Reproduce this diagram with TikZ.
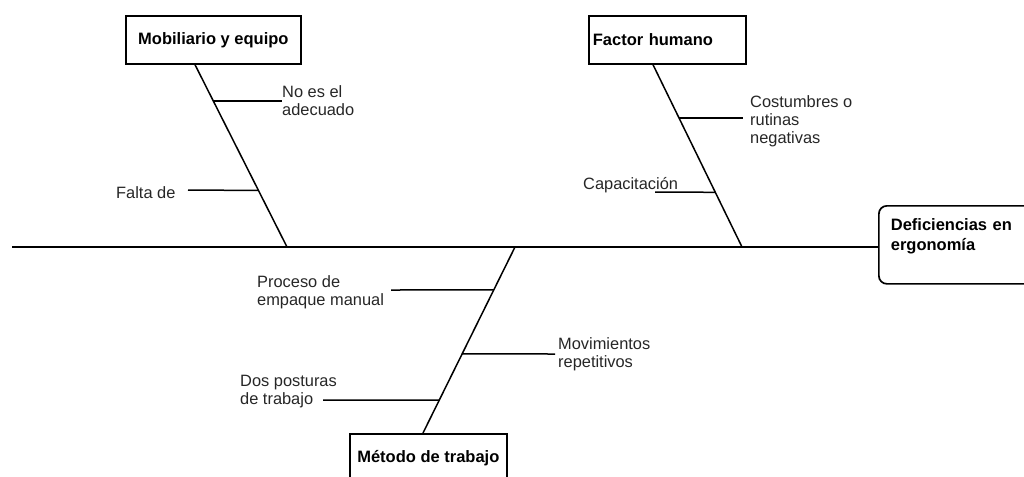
\documentclass[tikz,border=0pt]{standalone}
\usepackage{fontspec}
\setmainfont{Liberation Sans}
\usetikzlibrary{positioning,calc}

\begin{document}
\begin{tikzpicture}[x=1pt,y=-1pt,
    causa/.style={rectangle,draw,line width=1.7pt,minimum height=48pt,anchor=north west,font=\fontsize{16.5}{19}\selectfont\bfseries},
    efectobox/.style={rectangle,draw,rounded corners=8pt,line width=1.7pt,minimum width=160pt,minimum height=78pt,text width=136pt,inner xsep=12pt,align=left,anchor=north west,font=\fontsize{16.5}{20}\selectfont\bfseries},
    nota/.style={inner sep=0pt,align=left,anchor=north west,text=black!85,font=\fontsize{16.4}{18}\selectfont},
    rama/.style={line width=1.5pt}]
    \useasboundingbox (0,0) rectangle (1024,476);
    \clip (0,0) rectangle (1024,476);

    % categories and effect
    \node[causa,minimum width=175pt] (mobil) at (125,15) {Mobiliario y equipo};
    \node[causa,text width=149pt,inner xsep=4pt,align=left] (humano) at (588,15) {Factor humano};
    \node[causa,minimum width=157pt] (metodo) at (349,433) {Método de trabajo};
    \node[efectobox] (efecto) at (878,205) {Deficiencias en\\ergonomía\\\mbox{}};

    % spine
    \coordinate (cola) at (12,247);
    \draw[rama] (cola) -- (cola -| efecto.west);

    % bones
    \coordinate (b1t) at ([xshift=70pt]mobil.south west);
    \coordinate (j1) at (287,247);
    \coordinate (b2t) at ([xshift=65pt]humano.south west);
    \coordinate (j2) at (742,247);
    \coordinate (j3) at (515,247);
    \coordinate (b3b) at ([xshift=74pt]metodo.north west);
    \draw[rama] (b1t) -- (j1);
    \draw[rama] (b2t) -- (j2);
    \draw[rama] (j3) -- (b3b);

    % causes
    \node[nota] (noes) at (282,85) {No es el\\adecuado};
    \node[nota] (falta) at (116,186) {Falta de};
    \node[nota] (costum) at (750,95) {Costumbres o\\rutinas\\negativas};
    \node[nota] (capac) at (583,177) {Capacitación};
    \node[nota] (proceso) at (257,275) {Proceso de\\empaque manual};
    \node[nota] (movim) at (558,337) {Movimientos\\repetitivos};
    \node[nota] (dos) at (240,375) {Dos posturas\\de trabajo};

    \coordinate (m1) at ($(b1t)!0.20!(j1)$);
    \coordinate (m2) at ($(b1t)!0.69!(j1)$);
    \coordinate (m3) at ($(b2t)!0.293!(j2)$);
    \coordinate (m4) at ($(b2t)!0.70!(j2)$);
    \coordinate (m5) at ($(j3)!0.231!(b3b)$);
    \coordinate (m6) at ($(j3)!0.575!(b3b)$);
    \coordinate (m7) at ($(j3)!0.823!(b3b)$);
    \coordinate (m2e) at (188,190);
    \coordinate (m4e) at (655,192);
    \coordinate (m5e) at (391,290);
    \coordinate (m6e) at (555,354);
    \coordinate (m7e) at (323,400);

    \draw[rama] (m1) -- (m1 -| noes.west);
    \draw[rama] (m2e) -- (m2);
    \draw[rama] (m3) -- ([xshift=-7pt]m3 -| costum.west);
    \draw[rama] (m4e) -- (m4);
    \draw[rama] (m5e) -- (m5);
    \draw[rama] (m6) -- (m6e);
    \draw[rama] (m7e) -- (m7);
\end{tikzpicture}
\end{document}
